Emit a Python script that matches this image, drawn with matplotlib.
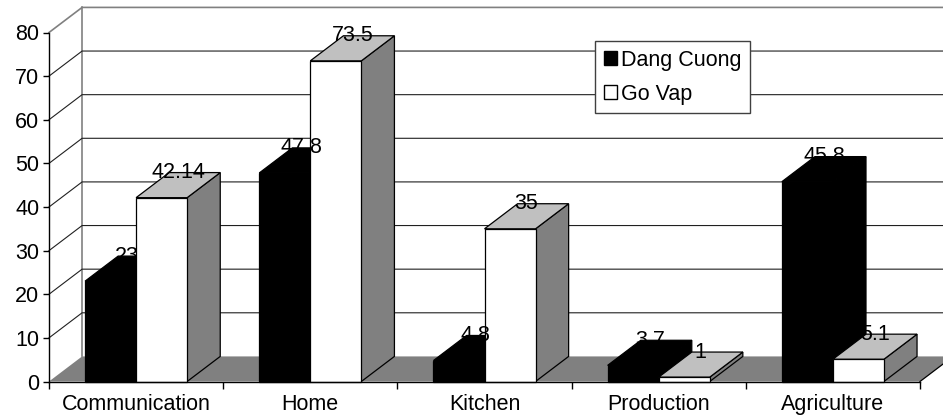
import matplotlib.pyplot as plt
from matplotlib.patches import Polygon, Patch

plt.rcParams['font.family'] = ['Liberation Sans', 'DejaVu Sans']

# Survey results per sector
categories = ['Communication', 'Home', 'Kitchen', 'Production', 'Agriculture']
dang_cuong = [23, 47.8, 4.8, 3.7, 45.8]
go_vap = [42.14, 73.5, 35, 1, 5.1]
y_ticks = [0, 10, 20, 30, 40, 50, 60, 70, 80]

FS = 15.5
DX = 0.19    # depth offset, category units
DY = 5.75    # depth offset, value units
GAP = 0.207  # space on each side of a bar pair
BW = 0.293   # width of one bar

fig = plt.figure(figsize=(9.43, 4.20), dpi=100)
ax = fig.add_axes([49 / 943, 38.5 / 420, 871 / 943, 349 / 420])
ax.set_facecolor('none')
n = len(categories)
ax.set_xlim(0, n)
ax.set_ylim(0, 80)


def poly(pts, fc, ec, lw=0.9, z=1):
    ax.add_patch(Polygon(pts, closed=True, facecolor=fc, edgecolor=ec,
                         linewidth=lw, zorder=z, clip_on=False, joinstyle='miter'))


# walls and floor
poly([(0, 0), (0, 80), (DX, 80 + DY), (DX, DY)], 'white', 'none', z=0.5)
poly([(DX, DY), (DX, 80 + DY), (n + DX, 80 + DY), (n + DX, DY)], 'white', 'none', z=0.5)
poly([(0, 0), (n, 0), (n + DX, DY), (DX, DY)], '#808080', 'none', z=0.6)
ax.plot([n, n + DX], [0, DY], color='black', lw=0.9, zorder=0.7, clip_on=False)
ax.plot([0, DX, n + DX], [80, 80 + DY, 80 + DY], color='#808080', lw=1.2,
        zorder=0.7, clip_on=False)
ax.plot([DX, DX], [DY, 80 + DY], color='#808080', lw=1.2, zorder=0.7, clip_on=False)
for v in y_ticks[1:-1]:
    ax.plot([0, DX, n + DX], [v, v + DY, v + DY], color='#202020', lw=0.8,
            zorder=0.7, clip_on=False)


def bar(x0, h, front, top, side, edge):
    x1 = x0 + BW
    poly([(x1, 0), (x1 + DX, DY), (x1 + DX, h + DY), (x1, h)], side, edge, z=2)
    poly([(x0, h), (x1, h), (x1 + DX, h + DY), (x0 + DX, h + DY)], top, edge, z=2)
    poly([(x0, 0), (x1, 0), (x1, h), (x0, h)], front, edge, z=2)


for i in range(n):
    xb = i + GAP
    xw = xb + BW
    bar(xb, dang_cuong[i], 'black', 'black', 'black', 'black')
    bar(xw, go_vap[i], 'white', '#c0c0c0', '#808080', 'black')

# value labels sit on the back edge of each top face
for i in range(n):
    for x0, v in ((i + GAP, dang_cuong[i]), (i + GAP + BW, go_vap[i])):
        ax.text(x0 + BW / 2 + DX / 2, v + DY, f'{v:g}', ha='center', va='center',
                fontsize=FS, color='black', zorder=10)

for side in ('top', 'right'):
    ax.spines[side].set_visible(False)
for side in ('left', 'bottom'):
    ax.spines[side].set_linewidth(1.0)
    ax.spines[side].set_zorder(3)

ax.set_yticks(y_ticks)
ax.tick_params(axis='y', direction='out', length=4, width=1, pad=3, labelsize=FS)
ax.set_xticks(range(n + 1))
ax.set_xticklabels([])
ax.set_xticks([i + 0.5 for i in range(n)], minor=True)
ax.set_xticklabels(categories, minor=True, fontsize=FS)
ax.tick_params(axis='x', which='major', direction='out', length=5, width=1)
ax.tick_params(axis='x', which='minor', length=0, pad=9)

handles = [Patch(facecolor='black', edgecolor='black', label='Dang Cuong'),
           Patch(facecolor='white', edgecolor='black', label='Go Vap')]
leg = fig.legend(handles=handles, loc='upper left', bbox_to_anchor=(595 / 943, 1 - 41 / 420),
                 fontsize=FS, frameon=True, fancybox=False, framealpha=1,
                 edgecolor='#404040', handlelength=0.6, handleheight=0.6,
                 handletextpad=0.2, labelspacing=0.6, borderpad=0.4, borderaxespad=0)
leg.get_frame().set_linewidth(1.0)

fig.savefig('out.png', dpi=100)
